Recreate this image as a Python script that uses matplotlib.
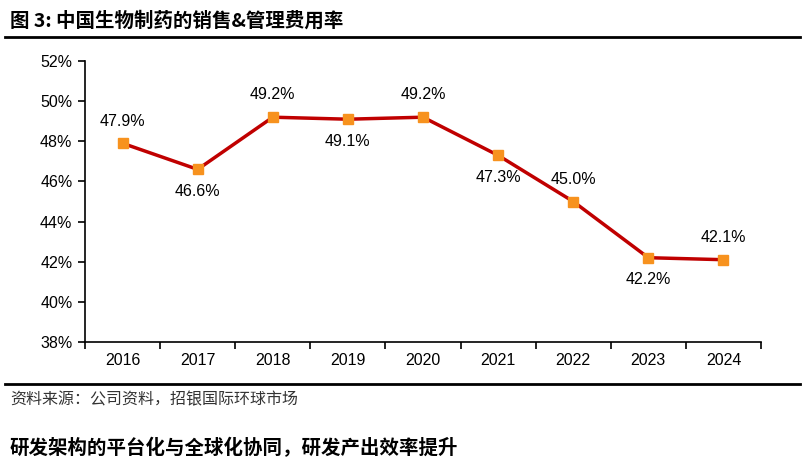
import matplotlib.pyplot as plt
from matplotlib.lines import Line2D

plt.rcParams['font.family'] = ['Liberation Sans', 'Noto Sans CJK SC', 'DejaVu Sans']

years = ["2016", "2017", "2018", "2019", "2020", "2021", "2022", "2023", "2024"]
ratio = [47.9, 46.6, 49.2, 49.1, 49.2, 47.3, 45.0, 42.2, 42.1]
label_above = [True, False, True, False, True, False, True, False, True]
y_ticks = [38, 40, 42, 44, 46, 48, 50, 52]

fig = plt.figure(figsize=(8.09, 4.72), dpi=100)
ax = fig.add_axes([85 / 809, 1 - 342 / 472, (761 - 85) / 809, (342 - 61) / 472])

x = list(range(len(years)))
ax.plot(x, ratio, color="#C00000", lw=2.5, zorder=2)
ax.plot(x, ratio, ls="none", marker="s", ms=7, color="#F7921E", zorder=3)

for xi, v, up in zip(x, ratio, label_above):
    off = 16 if up else -16
    ax.annotate(f"{v:.1f}%", (xi, v), xytext=(0, off), textcoords="offset points",
                ha="center", va="center", fontsize=11.5)

ax.set_xlim(-0.5, len(years) - 0.5)
ax.set_ylim(38, 52)
ax.set_yticks(y_ticks)
ax.set_yticklabels([f"{t}%" for t in y_ticks], fontsize=11.5)
ax.set_xticks([i - 0.5 for i in range(len(years) + 1)])
ax.set_xticklabels([])
ax.set_xticks(x, minor=True)
ax.set_xticklabels(years, minor=True, fontsize=11.5)
ax.tick_params(axis="x", which="minor", length=0, pad=8)
ax.tick_params(axis="x", which="major", direction="out", length=5, width=1.2)
ax.tick_params(axis="y", direction="out", length=5, width=1.2, pad=4)
for s in ["top", "right"]:
    ax.spines[s].set_visible(False)
for s in ["left", "bottom"]:
    ax.spines[s].set_linewidth(1.2)

cjk = ['Noto Sans CJK SC', 'DejaVu Sans']
fig.text(10 / 809, 1 - 21 / 472, "图 3: 中国生物制药的销售&管理费用率", fontsize=14,
         fontweight="bold", va="center", family=cjk)
fig.add_artist(Line2D([5 / 809, 800 / 809], [1 - 37 / 472] * 2, color="black", lw=2))
fig.add_artist(Line2D([5 / 809, 800 / 809], [1 - 384 / 472] * 2, color="black", lw=2))
fig.text(10 / 809, 1 - 400 / 472, "资料来源：公司资料，招银国际环球市场", fontsize=11.5,
         va="center", color="#333333", family=cjk)
fig.text(10 / 809, 1 - 448 / 472, "研发架构的平台化与全球化协同，研发产出效率提升", fontsize=14,
         fontweight="bold", va="center", family=cjk)

fig.savefig("out.png", dpi=100)
